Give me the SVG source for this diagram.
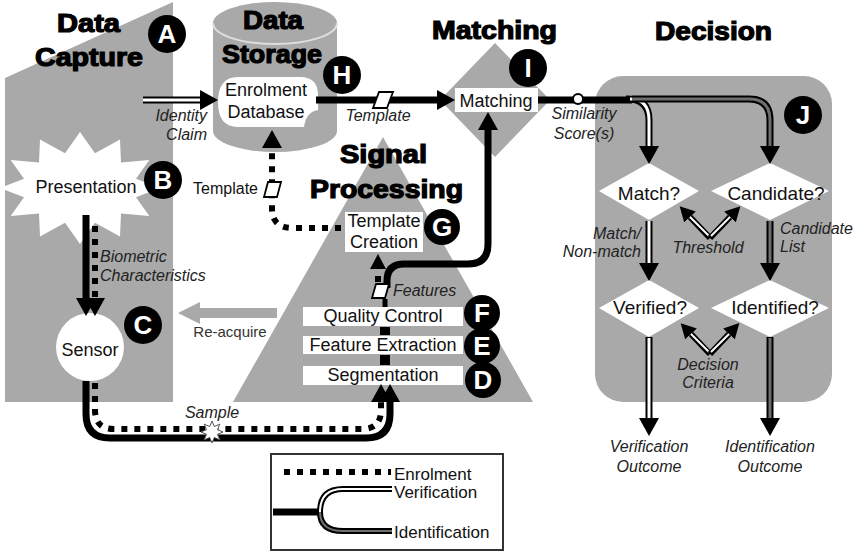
<svg xmlns="http://www.w3.org/2000/svg" width="860" height="553" viewBox="0 0 860 553">
<defs>
<style>
.bg{fill:#a9a9a9}
.wh{fill:#fff}
.h{font-family:"Liberation Sans",Arial,sans-serif;font-weight:bold;font-size:25px;fill:#000;stroke:#000;stroke-width:1.2}
.t{font-family:"Liberation Sans",Arial,sans-serif;font-size:18px;fill:#111;text-anchor:middle}
.d{font-family:"Liberation Sans",Arial,sans-serif;font-size:19px;fill:#111;text-anchor:middle}
.i{font-family:"Liberation Sans",Arial,sans-serif;font-style:italic;font-size:16px;fill:#222;text-anchor:middle}
.lg{font-family:"Liberation Sans",Arial,sans-serif;font-size:17px;fill:#111}
.lt{font-family:"Liberation Sans",Arial,sans-serif;font-weight:bold;font-size:26px;fill:#fff;text-anchor:middle}
.solid{fill:none;stroke:#000;stroke-width:7}
.thin{fill:none;stroke:#000;stroke-width:5}
.dot{fill:none;stroke:#000;stroke-width:6;stroke-dasharray:6 7}
.dout{fill:none;stroke:#000;stroke-width:7}
.vin{fill:none;stroke:#fff;stroke-width:3}
.iin{fill:none;stroke:#6e6e6e;stroke-width:3}
.tout{fill:none;stroke:#000;stroke-width:6}
.tin{fill:none;stroke:#fff;stroke-width:2}
.mk{fill:#fff;stroke:#000;stroke-width:1.8}
</style>
<marker id="ah" viewBox="0 0 18 20" markerWidth="18" markerHeight="20" refX="0" refY="10" orient="auto" markerUnits="userSpaceOnUse"><path d="M0,0 L18,10 L0,20 Z" fill="#000"/></marker>
<marker id="ahs" viewBox="0 0 15 16" markerWidth="15" markerHeight="16" refX="0" refY="8" orient="auto" markerUnits="userSpaceOnUse"><path d="M0,0 L15,8 L0,16 Z" fill="#000"/></marker>
</defs>
<rect x="0" y="0" width="860" height="553" fill="#fff"/>

<!-- background regions -->
<g id="data-capture">
<polygon class="bg" points="5,78 173,2 173,402 5,402"/>
<text class="h" x="57" y="32" textLength="63" lengthAdjust="spacingAndGlyphs">Data</text>
<text class="h" x="35" y="66" textLength="108" lengthAdjust="spacingAndGlyphs">Capture</text>
</g>
<g id="data-storage">
<path class="bg" d="M213,23 V131 A62,21 0 0,0 337,131 V23 A62,21 0 0,0 213,23 Z"/>
<path d="M213,23 A62,21 0 0,0 337,23" fill="none" stroke="#dedede" stroke-width="2"/>
<text class="h" x="243" y="29" textLength="60" lengthAdjust="spacingAndGlyphs">Data</text>
<text class="h" x="222" y="63" textLength="100" lengthAdjust="spacingAndGlyphs">Storage</text>
</g>
<g id="signal-processing">
<polygon class="bg" points="383,137 533,402 233,402"/>
<text class="h" x="340" y="163" textLength="87" lengthAdjust="spacingAndGlyphs">Signal</text>
<text class="h" x="310" y="198" textLength="153" lengthAdjust="spacingAndGlyphs">Processing</text>
</g>
<g id="matching-stage">
<polygon class="bg" points="495,43 550,100 495,157 440,100"/>
<text class="h" x="432" y="39" textLength="125" lengthAdjust="spacingAndGlyphs">Matching</text>
</g>
<g id="decision-stage">
<rect class="bg" x="595" y="76" width="237" height="326" rx="28"/>
<text class="h" x="655" y="40" textLength="117" lengthAdjust="spacingAndGlyphs">Decision</text>
</g>

<!-- nodes -->
<g id="presentation">
<polygon class="wh" points="160,188 136,197.3 149.3,216 121,213.5 120,236.5 95,222.8 80,244 65,222.8 40,236.5 39,213.5 10.7,216 24,197.3 0,188 24,178.7 10.7,160 39,162.5 40,139.5 65,153.2 80,132 95,153.2 120,139.5 121,162.5 149.3,160 136,178.7"/>
<text class="t" x="86" y="193">Presentation</text>
</g>
<g id="sensor">
<circle class="wh" cx="90" cy="347" r="34"/>
<text class="t" x="90" y="356">Sensor</text>
</g>
<g id="enrolment-database">
<path class="wh" d="M238,77 H300 Q318,77 318,95 V110 Q306,112 304,127 H238 Q218,127 218,102 Q218,77 238,77 Z"/>
<text class="t" x="266" y="96">Enrolment</text>
<text class="t" x="266" y="118">Database</text>
</g>
<g id="template-creation">
<rect class="wh" x="345" y="212" width="78" height="40"/>
<text class="t" x="384" y="227">Template</text>
<text class="t" x="384" y="248">Creation</text>
</g>
<g id="quality-control">
<rect class="wh" x="303" y="307" width="160" height="19"/>
<text class="t" x="383" y="322">Quality Control</text>
</g>
<g id="feature-extraction">
<rect class="wh" x="303" y="336" width="160" height="18"/>
<text class="t" x="383" y="351">Feature Extraction</text>
</g>
<g id="segmentation">
<rect class="wh" x="303" y="366" width="160" height="19"/>
<text class="t" x="383" y="381">Segmentation</text>
</g>
<g id="matching">
<rect class="wh" x="455" y="88" width="83" height="24"/>
<text class="t" x="496" y="107">Matching</text>
</g>
<g id="match-q">
<polygon class="wh" points="649,163 699,191 649,220 599,191"/>
<text class="d" x="649" y="200">Match?</text>
</g>
<g id="candidate-q">
<polygon class="wh" points="770,163 829,191 770,220 711,191"/>
<text class="d" x="776" y="200">Candidate?</text>
</g>
<g id="verified-q">
<polygon class="wh" points="649,280 699,308 649,337 599,308"/>
<text class="d" x="650" y="314">Verified?</text>
</g>
<g id="identified-q">
<polygon class="wh" points="770,280 829,308 770,337 711,308"/>
<text class="d" x="775" y="314">Identified?</text>
</g>

<!-- connectors -->
<g id="connectors">
<path class="dout" d="M143,100 H200" marker-end="url(#ah)"/>
<path class="vin" d="M143,100 H200"/>
<path class="solid" d="M86,215 V298" marker-end="url(#ah)"/>
<path class="dot" d="M95,226 V298" marker-end="url(#ah)"/>
<path class="solid" d="M86,381 V414 Q86,438 110,438 H366 Q390,438 390,414 V402" marker-end="url(#ah)"/>
<path class="dot" d="M95,383 V410 Q95,429 114,429 H362 Q381,429 381,410 V402" marker-end="url(#ah)"/>
<polygon points="223,432 217.5,434.3 219.8,439.8 214.3,437.5 212,443 209.7,437.5 204.2,439.8 206.5,434.3 201,432 206.5,429.7 204.2,424.2 209.7,426.5 212,421 214.3,426.5 219.8,424.2 217.5,429.7" fill="#fff" stroke="#555" stroke-width="1"/>
<path d="M277,313 H199" fill="none" stroke="#a9a9a9" stroke-width="10"/>
<polygon points="200,302 200,324 178,313" fill="#a9a9a9"/>
<rect x="380" y="327" width="10" height="8" fill="#000"/>
<rect x="380" y="355" width="10" height="10" fill="#000"/>
<path class="thin" d="M385,299 V307"/>
<path class="dot" d="M378,282 V269" marker-end="url(#ahs)"/>
<path class="solid" d="M387,288 V281 Q387,264 404,264 H468 Q488,264 488,244 V130" marker-end="url(#ah)"/>
<polygon class="mk" points="376,284 389,284 385,298 372,298"/>
<path class="dot" d="M341,228 H292 Q272,228 272,208 V148" marker-end="url(#ah)"/>
<polygon class="mk" points="268,182 281,182 277,197 264,197"/>
<path class="solid" d="M316,100 H437" marker-end="url(#ah)"/>
<polygon class="mk" points="379,92 393,92 387,108 373,108"/>
<path class="solid" d="M538,100 H632"/>
<path class="dout" d="M626,99 H628 Q649,99 649,120 V146" marker-end="url(#ah)"/>
<path class="vin" d="M630,99 Q649,99 649,120 V146"/>
<path class="dout" d="M632,99 H749 Q770,99 770,120 V146" marker-end="url(#ah)"/>
<path class="iin" d="M632,99 H749 Q770,99 770,120 V146"/>
<circle cx="578" cy="99" r="5" fill="#fff" stroke="#000" stroke-width="2"/>
<path class="dout" d="M649,221 V263" marker-end="url(#ah)"/>
<path class="vin" d="M649,221 V263"/>
<path class="dout" d="M770,221 V263" marker-end="url(#ah)"/>
<path class="iin" d="M770,221 V263"/>
<path class="dout" d="M649,337 V418" marker-end="url(#ah)"/>
<path class="vin" d="M649,338 V418"/>
<path class="dout" d="M770,337 V418" marker-end="url(#ah)"/>
<path class="iin" d="M770,338 V418"/>
<path class="tout" d="M710,238 L690,217" marker-end="url(#ahs)"/>
<path class="tin" d="M709,236 L690,217"/>
<path class="tout" d="M710,238 L730,217" marker-end="url(#ahs)"/>
<path class="tin" d="M711,236 L730,217"/>
<path class="tout" d="M710,354 L691,334" marker-end="url(#ahs)"/>
<path class="tin" d="M709,352 L691,334"/>
<path class="tout" d="M710,354 L729,334" marker-end="url(#ahs)"/>
<path class="tin" d="M711,352 L729,334"/>
</g>

<g id="labels">
<text class="i" x="207" y="121" style="text-anchor:end">Identity</text>
<text class="i" x="207" y="140" style="text-anchor:end">Claim</text>
<text class="i" x="378" y="121">Template</text>
<text class="i" x="584" y="119">Similarity</text>
<text class="i" x="584" y="139">Score(s)</text>
<text class="i" x="100" y="262" style="text-anchor:start">Biometric</text>
<text class="i" x="100" y="281" style="text-anchor:start">Characteristics</text>
<text class="t" x="258" y="194" style="text-anchor:end;font-size:16px">Template</text>
<text class="i" x="393" y="296" style="text-anchor:start">Features</text>
<text class="t" x="230" y="337" style="font-size:15px;fill:#333">Re-acquire</text>
<text class="i" x="212" y="418">Sample</text>
<text class="i" x="641" y="239" style="text-anchor:end">Match/</text>
<text class="i" x="641" y="257" style="text-anchor:end">Non-match</text>
<text class="i" x="708" y="253">Threshold</text>
<text class="i" x="780" y="234" style="text-anchor:start">Candidate</text>
<text class="i" x="780" y="252" style="text-anchor:start">List</text>
<text class="i" x="708" y="370">Decision</text>
<text class="i" x="708" y="388">Criteria</text>
<text class="i" x="649" y="452">Verification</text>
<text class="i" x="649" y="472">Outcome</text>
<text class="i" x="770" y="452">Identification</text>
<text class="i" x="770" y="472">Outcome</text>
</g>

<g id="badges">
<circle cx="167" cy="34" r="19"/><text class="lt" x="167" y="43">A</text>
<circle cx="163" cy="180" r="19"/><text class="lt" x="163" y="189">B</text>
<circle cx="143" cy="325" r="19"/><text class="lt" x="143" y="334">C</text>
<circle cx="342" cy="75" r="19"/><text class="lt" x="342" y="84">H</text>
<circle cx="528" cy="68" r="19"/><text class="lt" x="528" y="77">I</text>
<circle cx="803" cy="115" r="19"/><text class="lt" x="803" y="124">J</text>
<circle cx="442" cy="227" r="18"/><text class="lt" x="442" y="236">G</text>
<circle cx="482" cy="313" r="18"/><text class="lt" x="482" y="322">F</text>
<circle cx="482" cy="346" r="18"/><text class="lt" x="482" y="355">E</text>
<circle cx="483" cy="380" r="18"/><text class="lt" x="483" y="389">D</text>
</g>

<g id="legend">
<rect x="271" y="454" width="232" height="96" fill="#fff" stroke="#333" stroke-width="2"/>
<path class="dot" d="M284,472 H391"/>
<text class="lg" x="394" y="480">Enrolment</text>
<path class="solid" d="M273,512 H322"/>
<path class="tout" d="M320,512 Q320,489 343,489 H392"/>
<path class="tin" d="M320,512 Q320,489 343,489 H392"/>
<path class="tout" d="M320,512 Q320,531 343,531 H392"/>
<path d="M320,512 Q320,531 343,531 H392" fill="none" stroke="#6e6e6e" stroke-width="2"/>
<text class="lg" x="394" y="498">Verification</text>
<text class="lg" x="394" y="538">Identification</text>
</g>
</svg>
